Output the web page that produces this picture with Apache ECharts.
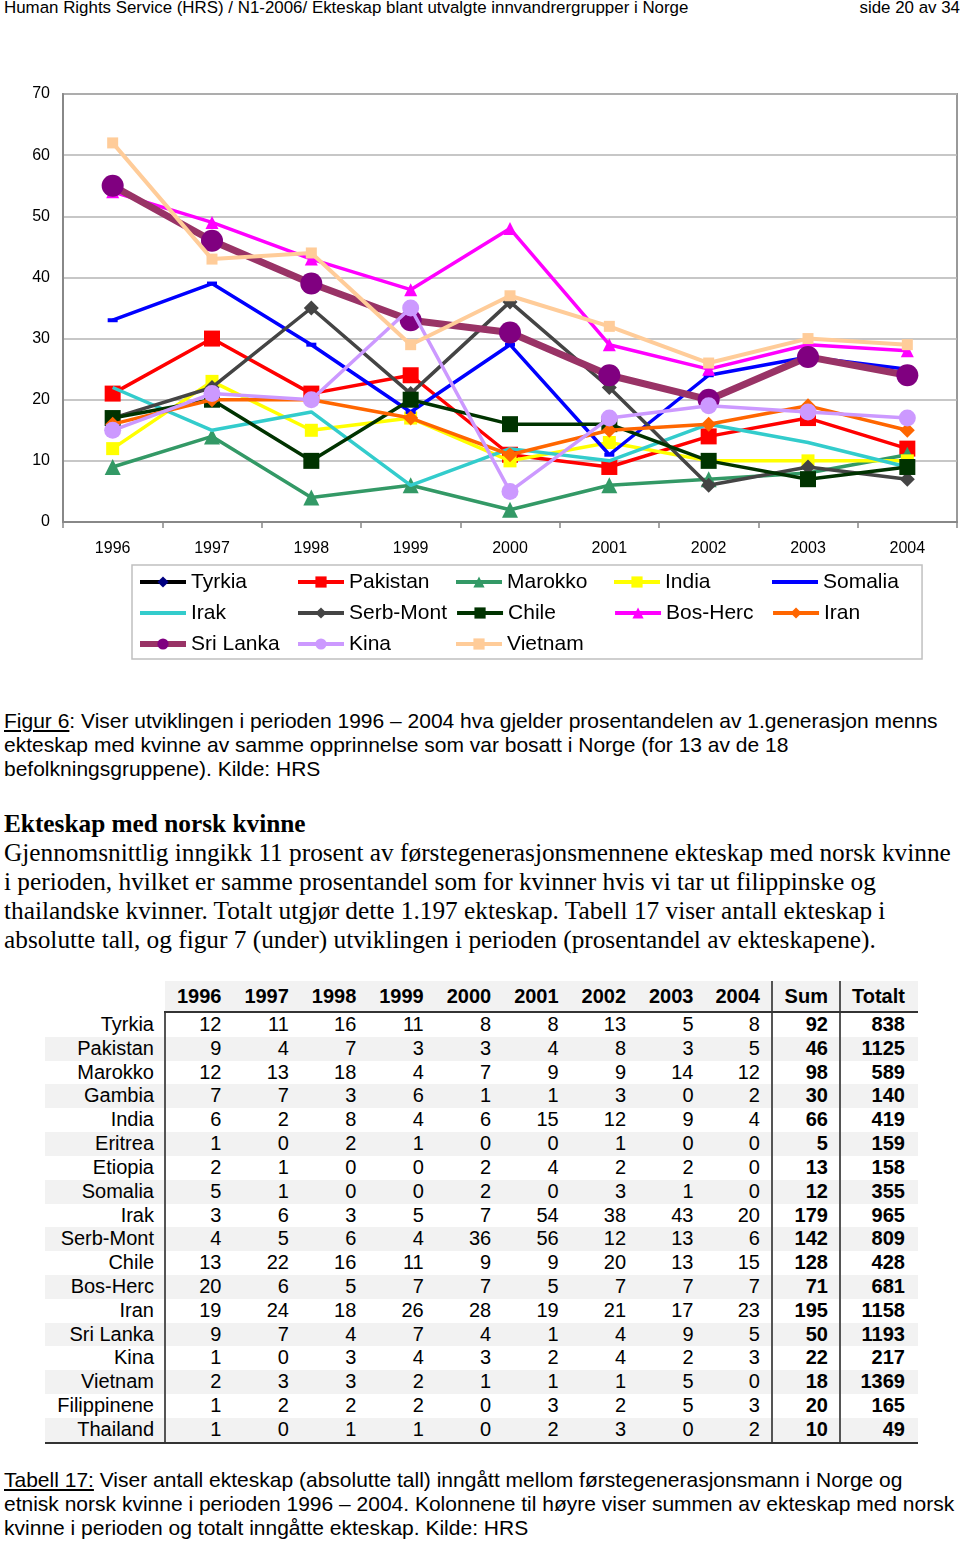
<!DOCTYPE html>
<html><head><meta charset="utf-8">
<script src="https://cdn.jsdelivr.net/npm/echarts@6/dist/echarts.min.js"></script>
<style>
html,body{margin:0;padding:0;background:#fff;}
body{width:960px;height:1543px;position:relative;overflow:hidden;font-family:'Liberation Sans',Arial,sans-serif;color:#000;}
.abs{position:absolute;white-space:nowrap;}
.sans{font-family:'Liberation Sans',Arial,sans-serif;}
.serif{font-family:'Liberation Serif','Times New Roman',serif;}
#tbl{position:absolute;left:45px;top:981px;border-collapse:collapse;table-layout:fixed;font-family:'Liberation Sans',Arial,sans-serif;font-size:20px;}
#tbl td{padding:0;height:23.82px;line-height:23.82px;text-align:right;white-space:nowrap;}
#tbl tr.h td{height:30px;line-height:30px;font-weight:bold;background:#f2f2f2;border-bottom:2px solid #333;}
#tbl tr.h td.lab{background:#fff;border-bottom:none;}
#tbl tr.g td{background:#f2f2f2;}
#tbl td.lab{padding-right:10px;}
#tbl td.num{padding-right:11px;}
#tbl td.sum{padding-right:11px;font-weight:bold;border-left:2px solid #555;}
#tbl td.tot{padding-right:13px;font-weight:bold;border-left:2px solid #555;}
#tbl td.first{border-left:2px solid #555;}
#tbl tr.h td.first{border-left:none;}
#tbl tr.last td{border-bottom:2px solid #333;}
</style>
</head>
<body>
<div class="abs sans" style="left:4px;top:-2px;font-size:16.9px;line-height:20px;">Human Rights Service (HRS) / N1-2006/ Ekteskap blant utvalgte innvandrergrupper i Norge</div>
<div class="abs sans" style="right:0px;top:-2px;font-size:16.9px;line-height:20px;">side 20 av 34</div>

<div id="chart" style="position:absolute;left:0;top:0;width:960px;height:670px;"></div>

<div class="abs sans" style="left:4px;top:709px;font-size:21px;line-height:24px;"><span style="text-decoration:underline">Figur 6</span>: Viser utviklingen i perioden 1996 – 2004 hva gjelder prosentandelen av 1.generasjon menns<br>ekteskap med kvinne av samme opprinnelse som var bosatt i Norge (for 13 av de 18<br>befolkningsgruppene). Kilde: HRS</div>

<div class="abs serif" style="left:4px;top:809px;font-size:25.3px;line-height:29px;"><b>Ekteskap med norsk kvinne</b><br>Gjennomsnittlig inngikk 11 prosent av førstegenerasjonsmennene ekteskap med norsk kvinne<br>i perioden, hvilket er samme prosentandel som for kvinner hvis vi tar ut filippinske og<br>thailandske kvinner. Totalt utgjør dette 1.197 ekteskap. Tabell 17 viser antall ekteskap i<br>absolutte tall, og figur 7 (under) utviklingen i perioden (prosentandel av ekteskapene).</div>

<table id="tbl"></table>

<div class="abs sans" style="left:4px;top:1468px;font-size:21px;line-height:24px;"><span style="text-decoration:underline">Tabell 17:</span> Viser antall ekteskap (absolutte tall) inngått mellom førstegenerasjonsmann i Norge og<br>etnisk norsk kvinne i perioden 1996 – 2004. Kolonnene til høyre viser summen av ekteskap med norsk<br>kvinne i perioden og totalt inngåtte ekteskap. Kilde: HRS</div>

<script>
// ---------- chart data (percent) ----------
const years = ['1996','1997','1998','1999','2000','2001','2002','2003','2004'];
const yTicks = [0,10,20,30,40,50,60,70];
const seriesNames = ['Tyrkia','Pakistan','Marokko','India','Somalia','Irak','Serb-Mont','Chile','Bos-Herc','Iran','Sri Lanka','Kina','Vietnam'];
const tyrkia   = [];
const pakistan = [21, 30, 21, 24, 11, 9, 14, 17, 12];
const marokko  = [9, 14, 4, 6, 2, 6, 7, 8, 11];
const india    = [12, 23, 15, 17, 10, 13, 10, 10, 10];
const somalia  = [33, 39, 29, 18, 29, 11, 24, 27, 25];
const irak     = [22, 15, 18, 6, 12, 10, 16, 13, 9];
const serbMont = [17, 22, 35, 21, 36, 22, 6, 9, 7];
const chile    = [17, 20, 10, 20, 16, 16, 10, 7, 9];
const bosHerc  = [54, 49, 43, 38, 48, 29, 25, 29, 28];
const iran     = [16, 20, 20, 17, 11, 15, 16, 19, 15];
const sriLanka = [55, 46, 39, 33, 31, 24, 20, 27, 24];
const kina     = [15, 21, 20, 35, 5, 17, 19, 18, 17];
const vietnam  = [62, 43, 44, 29, 37, 32, 26, 30, 29];
const seriesData = [tyrkia, pakistan, marokko, india, somalia, irak, serbMont, chile, bosHerc, iran, sriLanka, kina, vietnam];

// ---------- table data ----------
const tableYears = ['1996','1997','1998','1999','2000','2001','2002','2003','2004'];
const tableExtraHeads = ['Sum','Totalt'];
const tableRows = ['Tyrkia','Pakistan','Marokko','Gambia','India','Eritrea','Etiopia','Somalia','Irak','Serb-Mont','Chile','Bos-Herc','Iran','Sri Lanka','Kina','Vietnam','Filippinene','Thailand'];
const tableValues = [
  [12,11,16,11,8,8,13,5,8],
  [9,4,7,3,3,4,8,3,5],
  [12,13,18,4,7,9,9,14,12],
  [7,7,3,6,1,1,3,0,2],
  [6,2,8,4,6,15,12,9,4],
  [1,0,2,1,0,0,1,0,0],
  [2,1,0,0,2,4,2,2,0],
  [5,1,0,0,2,0,3,1,0],
  [3,6,3,5,7,54,38,43,20],
  [4,5,6,4,36,56,12,13,6],
  [13,22,16,11,9,9,20,13,15],
  [20,6,5,7,7,5,7,7,7],
  [19,24,18,26,28,19,21,17,23],
  [9,7,4,7,4,1,4,9,5],
  [1,0,3,4,3,2,4,2,3],
  [2,3,3,2,1,1,1,5,0],
  [1,2,2,2,0,3,2,5,3],
  [1,0,1,1,0,2,3,0,2]
];
const tableSum = [92,46,98,30,66,5,13,12,179,142,128,71,195,50,22,18,20,10];
const tableTotal = [838,1125,589,140,419,159,158,355,965,809,428,681,1158,1193,217,1369,165,49];

// ---------- styles (separate from data) ----------
const styles = {
  'Tyrkia':    {line:'#000000', mark:'#000080', sym:'diamond', size:14, w:3.5, lw:4},
  'Pakistan':  {line:'#ff0000', mark:'#ff0000', sym:'rect', size:16, w:3.5, lw:4},
  'Marokko':   {line:'#339966', mark:'#339966', sym:'triangle', size:16, w:3.5, lw:4},
  'India':     {line:'#ffff00', mark:'#ffff00', sym:'rect', size:13, w:3.5, lw:4},
  'Somalia':   {line:'#0000ff', mark:'#0000ff', sym:'rect', size:[10,4], w:3.5, lw:4, hideLegendMark:true},
  'Irak':      {line:'#33cccc', mark:'#33cccc', sym:'none', size:0, w:3.5, lw:4, hideLegendMark:true},
  'Serb-Mont': {line:'#444444', mark:'#444444', sym:'diamond', size:15, w:3.5, lw:4},
  'Chile':     {line:'#003300', mark:'#003300', sym:'rect', size:16, w:3.5, lw:4},
  'Bos-Herc':  {line:'#ff00ff', mark:'#ff00ff', sym:'triangle', size:13, w:3.5, lw:4},
  'Iran':      {line:'#ff6600', mark:'#ff6600', sym:'diamond', size:15, w:3.5, lw:4},
  'Sri Lanka': {line:'#993366', mark:'#800080', sym:'circle', size:22, w:7, lw:6},
  'Kina':      {line:'#cc99ff', mark:'#cc99ff', sym:'circle', size:17, w:3.5, lw:4},
  'Vietnam':   {line:'#ffcc99', mark:'#ffcc99', sym:'rect', size:11, w:4, lw:4}
};

const chart = echarts.init(document.getElementById('chart'), null, {renderer:'canvas'});
const series = seriesNames.map((n, i) => {
  const s = styles[n];
  return {
    name: n, type: 'line', data: seriesData[i],
    symbol: s.sym, symbolSize: s.size, showSymbol: s.sym !== 'none',
    lineStyle: {color: s.line, width: s.w},
    itemStyle: {color: s.mark, borderWidth: 0},
    emphasis: {disabled: true},
    animation: false, z: 2 + i
  };
});
const legendData = seriesNames.map(n => {
  const s = styles[n];
  const d = {name: n, lineStyle: {width: s.lw, color: s.line}};
  if (s.hideLegendMark) d.itemStyle = {opacity: 0};
  return d;
});

chart.setOption({
  animation: false,
  backgroundColor: 'transparent',
  grid: {left: 63, right: 3, top: 94, bottom: 148, show: true, borderColor: '#999', borderWidth: 2},
  xAxis: {
    type: 'category', data: years, boundaryGap: true,
    axisLine: {lineStyle: {color: '#888', width: 2}},
    axisTick: {show: true, alignWithLabel: false, length: 6, lineStyle: {color: '#888', width: 1.5}},
    axisLabel: {color: '#000', fontSize: 16, fontFamily: 'Liberation Sans', margin: 19}
  },
  yAxis: {
    type: 'value', min: yTicks[0], max: yTicks[yTicks.length-1], interval: 10,
    axisLine: {show: true, lineStyle: {color: '#888', width: 2}},
    axisTick: {show: false},
    splitLine: {lineStyle: {color: '#b4b4b4', width: 1.5}},
    axisLabel: {color: '#000', fontSize: 16, fontFamily: 'Liberation Sans', margin: 13, padding: [4, 0, 0, 0]}
  },
  legend: {
    left: 132, top: 565, width: 800, orient: 'horizontal',
    padding: [5.5, 1, 3.5, 5],
    borderColor: '#c0c0c0', borderWidth: 1.5,
    itemWidth: 46, itemHeight: 14, itemGap: 8,
    selectedMode: false,
    textStyle: {color: '#000', fontSize: 21, fontFamily: 'Liberation Sans', width: 97, lineHeight: 23, overflow: 'none'},
    data: legendData
  },
  series: series
});

// ---------- table ----------
const tbl = document.getElementById('tbl');
const widths = [120].concat(tableYears.map(() => 67.44)).concat([68, 78]);
let cg = '<colgroup>' + widths.map(w => '<col style="width:' + w + 'px">').join('') + '</colgroup>';
let html = cg + '<tr class="h"><td class="lab"></td>' + tableYears.map((y, j) => '<td class="num' + (j===0?' first':'') + '">' + y + '</td>').join('') +
  '<td class="sum">' + tableExtraHeads[0] + '</td><td class="tot">' + tableExtraHeads[1] + '</td></tr>';
tableRows.forEach((r, i) => {
  const cls = (i % 2 === 1 ? 'g' : '') + (i === tableRows.length - 1 ? ' last' : '');
  html += '<tr class="' + cls + '"><td class="lab">' + r + '</td>' +
    tableValues[i].map((v, j) => '<td class="num' + (j===0?' first':'') + '">' + v + '</td>').join('') +
    '<td class="sum">' + tableSum[i] + '</td><td class="tot">' + tableTotal[i] + '</td></tr>';
});
tbl.innerHTML = html;
tbl.style.width = widths.reduce((a, b) => a + b, 0) + 'px';
</script>
</body></html>
